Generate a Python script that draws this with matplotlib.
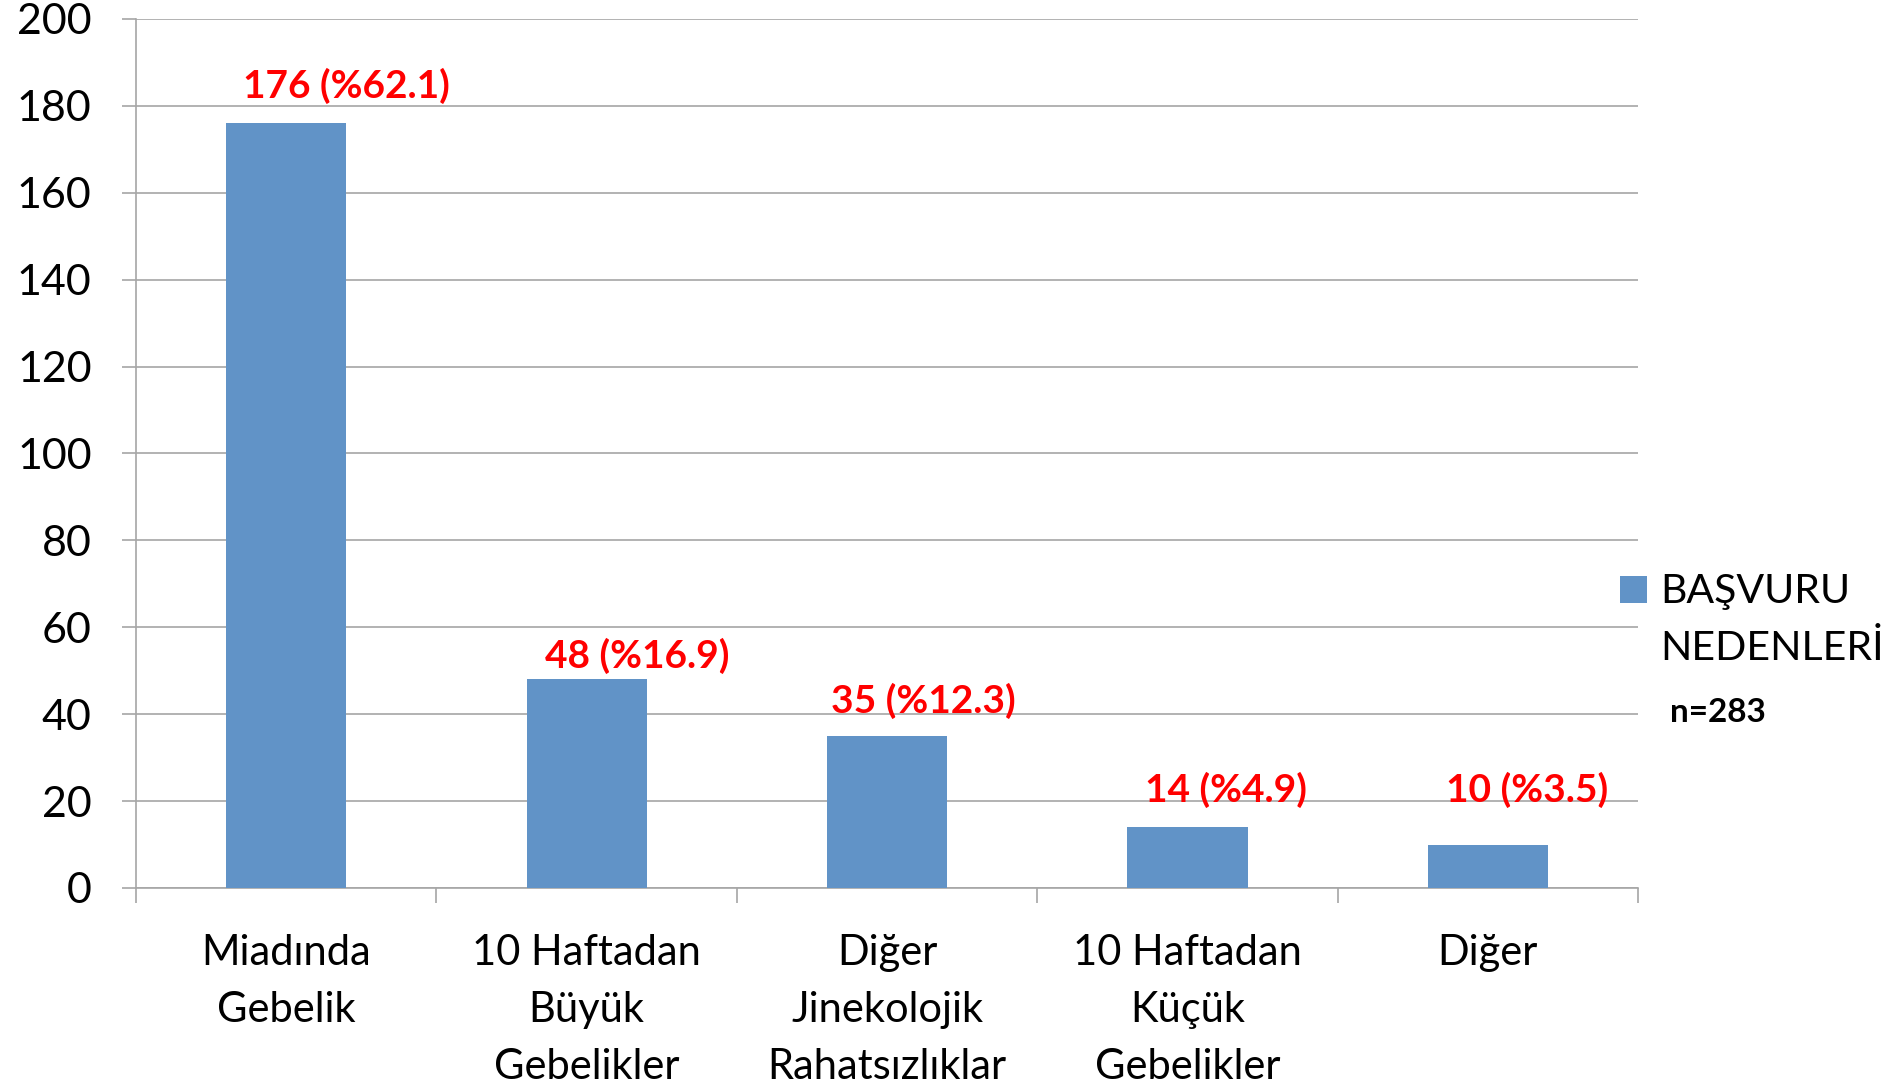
import numpy as np
import matplotlib.pyplot as plt
from matplotlib.patches import Rectangle
from matplotlib.ticker import FixedLocator

plt.rcParams['font.family'] = ['Lato', 'DejaVu Sans']

categories = ['Miadında\nGebelik', '10 Haftadan\nBüyük\nGebelikler', 'Diğer\nJinekolojik\nRahatsızlıklar',
              '10 Haftadan\nKüçük\nGebelikler', 'Diğer']
counts = [176, 48, 35, 14, 10]
percents = [62.1, 16.9, 12.3, 4.9, 3.5]
# label nudges (category units, data units) as placed in the original
label_dx = [0.2, 0.17, 0.12, 0.13, 0.13]
label_dy = [8.6, 5.4, 8.0, 8.6, 12.6]

BAR = '#6193c7'
GRID = '#a6a6a6'

fig = plt.figure(figsize=(18.95, 10.89), dpi=100)
ax = fig.add_axes([0.0718, 0.1846, 0.7926, 0.798])

x = np.arange(len(counts))
ax.bar(x, counts, width=0.4, color=BAR, zorder=3)

for i, (c, p) in enumerate(zip(counts, percents)):
    ax.text(x[i] + label_dx[i], c + label_dy[i], f'{c} (%{p})', color='red', fontsize=28,
            fontweight='bold', ha='center', va='center', zorder=4)

ax.set_xlim(-0.5, len(counts) - 0.5)
ax.set_ylim(0, 200)
ax.set_yticks(np.arange(0, 201, 20))
ax.yaxis.grid(True, color=GRID, linewidth=1.2, zorder=0)
ax.set_axisbelow(True)

ax.set_xticks(x)
ax.set_xticklabels(categories, fontsize=30, linespacing=1.62)
ax.xaxis.set_minor_locator(FixedLocator(np.arange(-0.5, len(counts), 1.0)))
ax.tick_params(axis='x', which='major', length=0, pad=33)
ax.tick_params(axis='x', which='minor', length=11, width=1.2, color=GRID)
ax.tick_params(axis='y', length=10, width=1.2, color=GRID, labelsize=31, pad=22)

for s in ['top', 'right']:
    ax.spines[s].set_visible(False)
for s in ['left', 'bottom']:
    ax.spines[s].set_color(GRID)
    ax.spines[s].set_linewidth(1.2)

# legend-like key on the right
fig.patches.append(Rectangle((1620 / 1895, 1 - 603 / 1089), 27 / 1895, 27 / 1089,
                             transform=fig.transFigure, facecolor=BAR, edgecolor='none'))
fig.text(1660 / 1895, 1 - 592 / 1089, 'BAŞVURU', fontsize=29.5, va='center', ha='left')
fig.text(1660 / 1895, 1 - 648 / 1089, 'NEDENLERİ', fontsize=29.5, va='center', ha='left')
fig.text(1670 / 1895, 1 - 712 / 1089, 'n=283', fontsize=24, fontweight='bold', va='center', ha='left')

plt.savefig('out.png', dpi=100, facecolor='white')
plt.close()
